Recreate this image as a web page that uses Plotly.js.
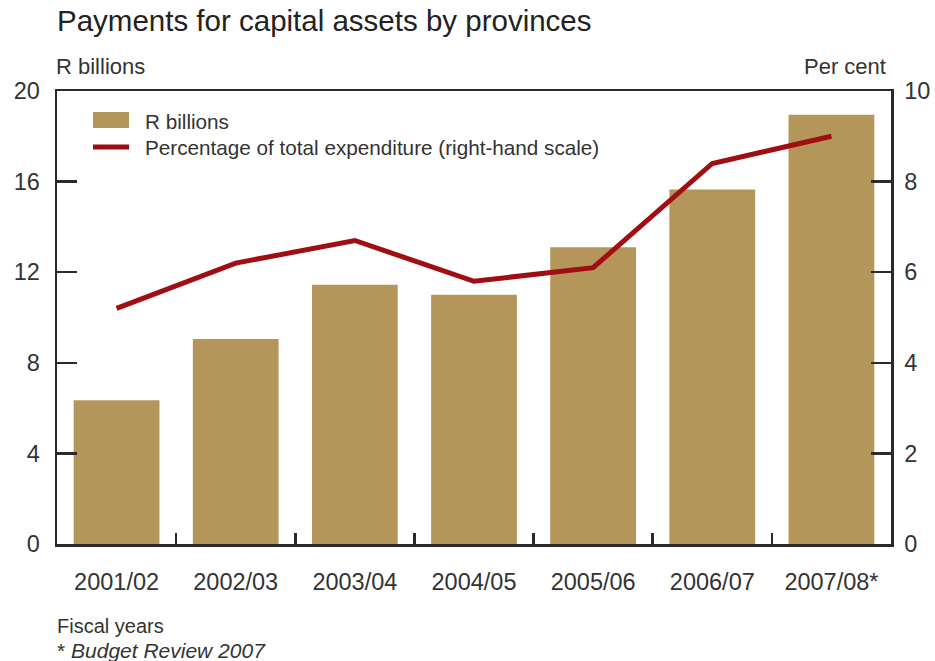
<!DOCTYPE html>
<html><head><meta charset="utf-8">
<script src="https://cdn.plot.ly/plotly-3.0.1.min.js"></script>
<style>body{margin:0;background:#fff}#chart{width:935px;height:661px}</style>
</head><body><div id="chart"></div>
<script>
const categories = ["2001/02","2002/03","2003/04","2004/05","2005/06","2006/07","2007/08*"];
const randBillions = [6.35, 9.05, 11.45, 11.0, 13.1, 15.65, 18.95];
const pctOfTotal = [5.2, 6.2, 6.7, 5.8, 6.1, 8.4, 9.0];
const leftTicks = [0,4,8,12,16,20];
const rightTicks = [0,2,4,6,8,10];
const legendLabels = ["R billions", "Percentage of total expenditure (right-hand scale)"];

const FONT = "Liberation Sans, Arial, sans-serif";
const TXT = "#333333";
const AX = "#2a2a2a";
const BAR = "#B5965A";
const LINE = "#A00E14";

const data = [
  {type:"bar", x:categories, y:randBillions, name:legendLabels[0],
   marker:{color:BAR}, yaxis:"y", hoverinfo:"skip", showlegend:false},
  {type:"scatter", mode:"lines", x:categories, y:pctOfTotal, yaxis:"y2",
   name:legendLabels[1], line:{color:LINE, width:5}, hoverinfo:"skip", showlegend:false}
];

// pixel -> paper helpers for legend/annotation placement
const PL = 57, PW = 834, PB = 544, PH = 453;
const px = v => (v - PL) / PW;
const py = v => (PB - v) / PH;

const layout = {
  width:935, height:661,
  margin:{l:57, r:44, t:91, b:117},
  paper_bgcolor:"#fff", plot_bgcolor:"#fff",
  font:{family:FONT, color:TXT, size:20},
  bargap:0.28,
  showlegend:false,
  title:{text:"Payments for capital assets by provinces", x:0, xref:"paper", xanchor:"left",
         y:1 - 21/661, yanchor:"middle", font:{size:29.5, color:"#222", family:FONT}},
  xaxis:{type:"category", showline:true, linecolor:AX, linewidth:2.5, mirror:true,
         ticks:"inside", tickson:"boundaries", ticklen:11, tickwidth:2.5, tickcolor:AX,
         showgrid:false, zeroline:false, tickfont:{size:23.5, color:TXT},
         ticklabelstandoff:15, fixedrange:true},
  yaxis:{range:[0,20], tickvals:leftTicks, showline:true, linecolor:AX, linewidth:2.5,
         ticks:"inside", ticklen:20, tickwidth:2.5, tickcolor:AX, showgrid:false,
         zeroline:false, tickfont:{size:23.5, color:TXT}, ticklabelstandoff:10, fixedrange:true},
  yaxis2:{range:[0,10], tickvals:rightTicks, overlaying:"y", side:"right", showline:true,
          linecolor:AX, linewidth:2.5, ticks:"inside", ticklen:20, tickwidth:2.5, tickcolor:AX,
          showgrid:false, zeroline:false, tickfont:{size:23.5, color:TXT}, ticklabelstandoff:6,
          fixedrange:true},
  shapes:[
    {type:"rect", xref:"paper", yref:"paper", x0:px(93), x1:px(129), y0:py(128), y1:py(112),
     fillcolor:BAR, line:{width:0}},
    {type:"line", xref:"paper", yref:"paper", x0:px(93), x1:px(129), y0:py(147), y1:py(147),
     line:{color:LINE, width:5}}
  ],
  annotations:[
    {text:legendLabels[0], xref:"paper", yref:"paper", x:px(143), y:py(121), xanchor:"left", yanchor:"middle",
     showarrow:false, font:{size:20.7, color:TXT}},
    {text:legendLabels[1], xref:"paper", yref:"paper", x:px(143), y:py(147), xanchor:"left", yanchor:"middle",
     showarrow:false, font:{size:20.7, color:TXT}},
    {text:"R billions", xref:"paper", yref:"paper", x:0, y:1, xanchor:"left", yanchor:"bottom",
     xshift:-3, yshift:10, showarrow:false, font:{size:22, color:TXT}},
    {text:"Per cent", xref:"paper", yref:"paper", x:1, y:1, xanchor:"right", yanchor:"bottom",
     xshift:-3, yshift:10, showarrow:false, font:{size:22, color:TXT}},
    {text:"Fiscal years", xref:"paper", yref:"paper", x:0, y:0, xanchor:"left", yanchor:"middle",
     xshift:-2, yshift:-82, showarrow:false, font:{size:20, color:TXT}},
    {text:"* <i>Budget Review 2007</i>", xref:"paper", yref:"paper", x:0, y:0, xanchor:"left", yanchor:"middle",
     xshift:-2, yshift:-106, showarrow:false, font:{size:21, color:TXT}}
  ]
};
Plotly.newPlot("chart", data, layout, {displayModeBar:false, staticPlot:true});
</script></body></html>
